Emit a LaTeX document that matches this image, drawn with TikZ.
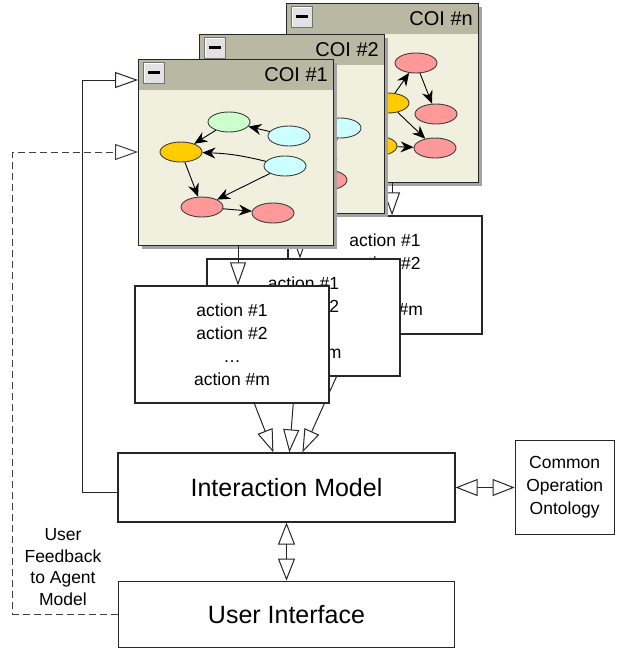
\documentclass[tikz,border=0pt]{standalone}
\usepackage{fontspec}
\setmainfont{Liberation Sans}
\usetikzlibrary{arrows.meta,positioning,calc,shapes.geometric}
\definecolor{winBar}   {HTML}{B9B8A2}
\definecolor{winBody}  {HTML}{F1EFDD}
\definecolor{winShade} {HTML}{A4A4A4}
\definecolor{winBtn}   {HTML}{E2E2E2}
\definecolor{entGreen} {HTML}{CCFFCC}
\definecolor{entCyan}  {HTML}{CCFFFF}
\definecolor{entOrange}{HTML}{FFCC00}
\definecolor{entPink}  {HTML}{FF9999}
\definecolor{lineDark} {HTML}{262626}
% COI window: #1 name, #2/#3 top left, #4 width, #5 height, #6 title
\newcommand{\coiwin}[6]{%
  \fill[winShade] (#2+4,#3+4) rectangle ++(#4,#5);
  \node[winbody,minimum width=#4pt,minimum height=#5pt] (#1) at (#2,#3) {};
  \fill[winBar] (#1.north west) rectangle ($(#1.north east)+(0,31)$);
  \draw[lineDark,line width=0.9pt] (#1.north west) rectangle (#1.south east);
  \node[winbtn] (#1-btn) at ($(#1.north west)+(15.5,13.5)$) {};
  \draw[white,line width=1pt] ($(#1-btn.south west)+(1.5,-1.5)$) |- ($(#1-btn.north east)+(-1.5,1.5)$);
  \fill (#1-btn.center) +(-6,-1.5) rectangle +(6,1.5);
  \node[wintitle] (#1-title) at ($(#1.north east)+(-5,16)$) {#6};
}

\begin{document}
\begin{tikzpicture}[x=1pt,y=-1pt,
      winbody/.style={fill=winBody,anchor=north west,inner sep=0pt,outer sep=0pt},
      winbtn/.style={draw=black!55,fill=winBtn,minimum size=21pt,inner sep=0pt},
      wintitle/.style={anchor=east,inner sep=0pt,font=\fontsize{20}{24}\selectfont},
      ent/.style={ellipse,draw=black!75,line width=0.9pt,minimum width=42pt,
                  minimum height=20pt,inner sep=0pt},
      rel/.style={-{Stealth[length=13pt,width=11pt]},line width=0.9pt},
      box/.style={draw=lineDark,line width=1.2pt,fill=white,inner sep=0pt,align=center,
                  font=\fontsize{17.5}{23}\selectfont},
      bigbox/.style={box,font=\fontsize{25}{30}\selectfont},
      flow/.style={draw=lineDark,line width=1pt,
                   arrows={-Triangle[length=23pt,width=16pt,fill=white]}},
      biflow/.style={draw=lineDark,line width=1pt,
                   arrows={Triangle[length=22pt,width=17pt,fill=white]-Triangle[length=22pt,width=17pt,fill=white]}},
      note/.style={align=center,font=\fontsize{17.5}{21.5}\selectfont}]
  \useasboundingbox (0,0) rectangle (616,656);

  \node[bigbox,minimum width=337pt,minimum height=69pt] (im) at (286.5,487.5) {Interaction Model};
  \node[bigbox,minimum width=336pt,minimum height=66pt,below=58pt of im] (ui) {User Interface};
  \node[box,minimum width=99pt,minimum height=94pt,right=59pt of im] (coo) {Common\\Operation\\Ontology};

  \node[box,minimum width=194pt,minimum height=118pt] (act3) at (385,275)
    {action \#1\\action \#2\\\ldots\\action \#m};
  \draw[flow] ($(act3.south west)+(68,0)$) -- ($(im.north west)+(185,0)$);
  \node[box,minimum width=193pt,minimum height=117pt] (act2) at (303.5,317.5)
    {action \#1\\action \#2\\\ldots\\action \#m};
  \draw[flow] ($(act2.south west)+(89,0)$) -- ($(im.north west)+(172,0)$);
  \node[box,minimum width=194pt,minimum height=117pt] (act1) at (232,344.5)
    {action \#1\\action \#2\\\ldots\\action \#m};
  \draw[flow] ($(act1.south west)+(120,0)$) -- ($(im.north west)+(156,0)$);

  \coiwin{coin}{286}{3}{192}{179}{COI \#n}
  \node[ent,fill=entPink]   (n-pk1) at (416,63)  {};
  \node[ent,fill=entOrange] (n-or1) at (388,103) {};
  \node[ent,fill=entPink]   (n-pk2) at (436,114) {};
  \node[ent,fill=entOrange] (n-or2) at (376,146) {};
  \node[ent,fill=entPink]   (n-pk3) at (435,148) {};
  \draw[rel] (n-or1) -- (n-pk1);
  \draw[rel] (n-pk1) -- (n-pk2);
  \draw[rel] (n-or1) -- (n-pk3);
  \draw[rel] (n-or2) -- (n-pk3);
  \coordinate (coin-out) at ($(coin.south west)+(106,0)$);
  \draw[flow] (coin-out) -- (coin-out |- act3.north);

  \coiwin{coi2}{199}{34}{185}{179}{COI \#2}
  \node[ent,fill=entCyan] (b-cy) at (340,128) {};
  \node[ent,fill=entPink] (b-pk) at (326,180) {};
  \draw[rel] (b-cy) -- (b-pk);
  \coordinate (coi2-out) at ($(coi2.south west)+(101,0)$);
  \draw[flow] (coi2-out) -- (coi2-out |- act2.north);

  \coiwin{coi1}{138}{59}{195}{186}{COI \#1}
  \node[ent,fill=entGreen]  (a-grn) at (229,122) {};
  \node[ent,fill=entCyan]   (a-cy1) at (289,136) {};
  \node[ent,fill=entOrange] (a-org) at (181,152) {};
  \node[ent,fill=entCyan]   (a-cy2) at (285,166) {};
  \node[ent,fill=entPink]   (a-pk1) at (202,207) {};
  \node[ent,fill=entPink]   (a-pk2) at (273,213) {};
  \draw[rel] (a-cy1) -- (a-grn);
  \draw[rel] (a-grn) -- (a-org);
  \draw[rel] (a-cy2) to[bend right=6] (a-org);
  \draw[rel] (a-cy2) -- (a-pk1);
  \draw[rel] (a-org) -- (a-pk1);
  \draw[rel] (a-pk1) -- (a-pk2);
  \coordinate (coi1-out) at ($(coi1.south west)+(100,0)$);
  \draw[flow] (coi1-out) -- (coi1-out |- act1.north);

  % feedback paths back into the windows
  \draw[flow] ($(im.west)+(0,5)$) -- ++(-35,0) |- ($(coi1.north west)+(0,21)$);
  \draw[flow,draw=black!75,dash pattern=on 7pt off 4pt] (ui.west) -- ++(-105,0)
    |- ($(coi1.north west)+(0,93)$);
  \node[note] (fbnote) at (63,567) {User\\Feedback\\to Agent\\Model};

  \draw[biflow] (im.south) -- (ui.north);
  \draw[biflow] (im.east) -- (coo.west);
\end{tikzpicture}
\end{document}
